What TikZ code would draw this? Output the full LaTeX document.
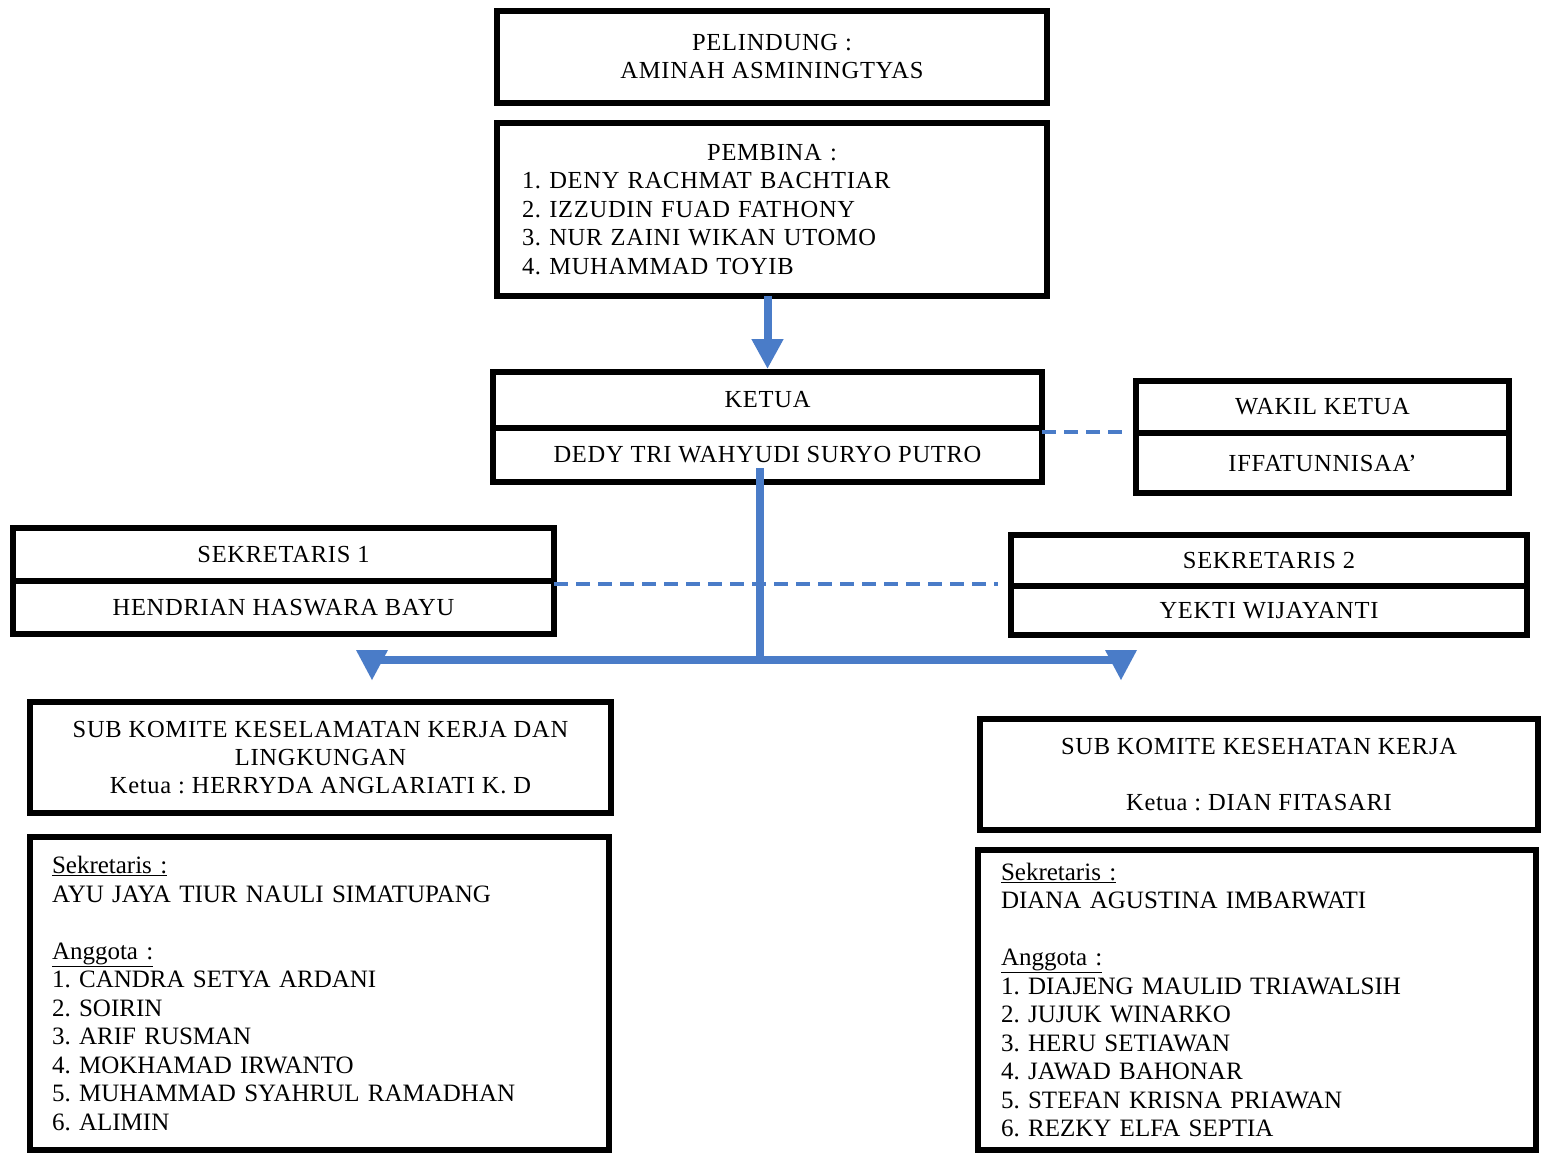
\documentclass[tikz,border=0pt]{standalone}
\usepackage{fontspec}
\setmainfont{Liberation Serif}
\newfontfamily\hdfont[LetterSpace=3]{Liberation Serif}
\usetikzlibrary{arrows.meta,calc}
\definecolor{connblue}{RGB}{74,124,200}
\tikzset{
 box/.style={draw=black, line width=6pt, rectangle, inner sep=0pt, outer sep=0pt, fill=white},
 hd/.style={font=\hdfont\fontsize{24.5}{28}\selectfont, align=center},
 lst/.style={font=\fontsize{25}{28.5}\selectfont, align=left},
 conn/.style={draw=connblue, line width=8pt},
 tip/.style={fill=connblue},
 dashconn/.style={draw=connblue, line width=4pt, dash pattern=on 14pt off 8pt},
}
\begin{document}
\frenchspacing
\begin{tikzpicture}[x=1pt,y=-1pt]
\useasboundingbox[fill=white] (0,0) rectangle (1548,1154);
% top boxes
\node[box,hd,minimum width=550pt,minimum height=92pt] (pel) at (772,57) {PELINDUNG :\\AMINAH ASMININGTYAS};
\node[box,minimum width=550pt,minimum height=173pt,text width=500pt,align=left,font=\hdfont\fontsize{24.5}{28.5}\selectfont] (pem) at (772,209.5)
 {\makebox[\linewidth][c]{PEMBINA :}\\1. DENY RACHMAT BACHTIAR\\2. IZZUDIN FUAD FATHONY\\3. NUR ZAINI WIKAN UTOMO\\4. MUHAMMAD TOYIB};
% ketua
\node[box,hd,minimum width=549pt,minimum height=56pt] (ketT) at (767.5,400) {KETUA};
\node[box,hd,minimum width=549pt,minimum height=54pt] (ketB) at (767.5,455) {DEDY TRI WAHYUDI SURYO PUTRO};
% wakil
\node[box,hd,minimum width=373pt,minimum height=52pt] (wakT) at (1322.5,407) {WAKIL KETUA};
\node[box,hd,minimum width=373pt,minimum height=60pt] (wakB) at (1322.5,463) {IFFATUNNISAA’};
% sekretaris
\node[box,hd,minimum width=541pt,minimum height=53pt] (s1T) at (283.5,554.5) {SEKRETARIS 1};
\node[box,hd,minimum width=541pt,minimum height=53pt] (s1B) at (283.5,607.5) {HENDRIAN HASWARA BAYU};
\node[box,hd,minimum width=516pt,minimum height=51pt] (s2T) at (1269,560.5) {SEKRETARIS 2};
\node[box,hd,minimum width=516pt,minimum height=49pt] (s2B) at (1269,610.5) {YEKTI WIJAYANTI};
% sub komite
\node[box,hd,minimum width=581pt,minimum height=111pt] (sub1) at (320.5,757.5)
 {SUB KOMITE KESELAMATAN KERJA DAN\\LINGKUNGAN\\Ketua : HERRYDA ANGLARIATI K. D};
\node[box,hd,minimum width=558pt,minimum height=111pt] (sub2) at (1259,774.5)
 {SUB KOMITE KESEHATAN KERJA\\[28pt]Ketua : DIAN FITASARI};
% lists
\node[box,lst,minimum width=579pt,minimum height=313pt,text width=535pt] (l1) at (319.5,993.5)
 {\underline{Sekretaris :}\\AYU JAYA TIUR NAULI SIMATUPANG\\[28.5pt]\underline{Anggota :}\\1. CANDRA SETYA ARDANI\\2. SOIRIN\\3. ARIF RUSMAN\\4. MOKHAMAD IRWANTO\\5. MUHAMMAD SYAHRUL RAMADHAN\\6. ALIMIN};
\node[box,lst,minimum width=558pt,minimum height=300pt,text width=512pt] (l2) at (1257,1000)
 {\underline{Sekretaris :}\\DIANA AGUSTINA IMBARWATI\\[28.5pt]\underline{Anggota :}\\1. DIAJENG MAULID TRIAWALSIH\\2. JUJUK WINARKO\\3. HERU SETIAWAN\\4. JAWAD BAHONAR\\5. STEFAN KRISNA PRIAWAN\\6. REZKY ELFA SEPTIA};
% connectors
\draw[conn,-{Triangle[width=30pt,length=30pt]},shorten >=3pt] (ketT.north |- pem.south) -- (ketT.north);
\draw[dashconn,shorten >=13pt] ([yshift=-4pt]ketB.north east) -- ([yshift=-4pt]ketB.north east -| wakB.west);
\draw[dashconn,shorten >=13pt] ([yshift=-3pt]s1B.north east) -- ([yshift=-3pt]s1B.north east -| s2B.west);
\coordinate (jn) at (760,660);
\coordinate (lt) at (372,660);
\coordinate (rt) at (1121,660);
\draw[conn] ([yshift=14pt]jn |- ketB.south) -- (jn);
\draw[conn] (lt) -- (rt);
\fill[tip] ([yshift=10pt]lt) -- ++(-16,0) -- ++(16,30) -- ++(16,-30) -- cycle;
\fill[tip] ([yshift=10pt]rt) -- ++(-16,0) -- ++(16,30) -- ++(16,-30) -- cycle;
\end{tikzpicture}
\end{document}
